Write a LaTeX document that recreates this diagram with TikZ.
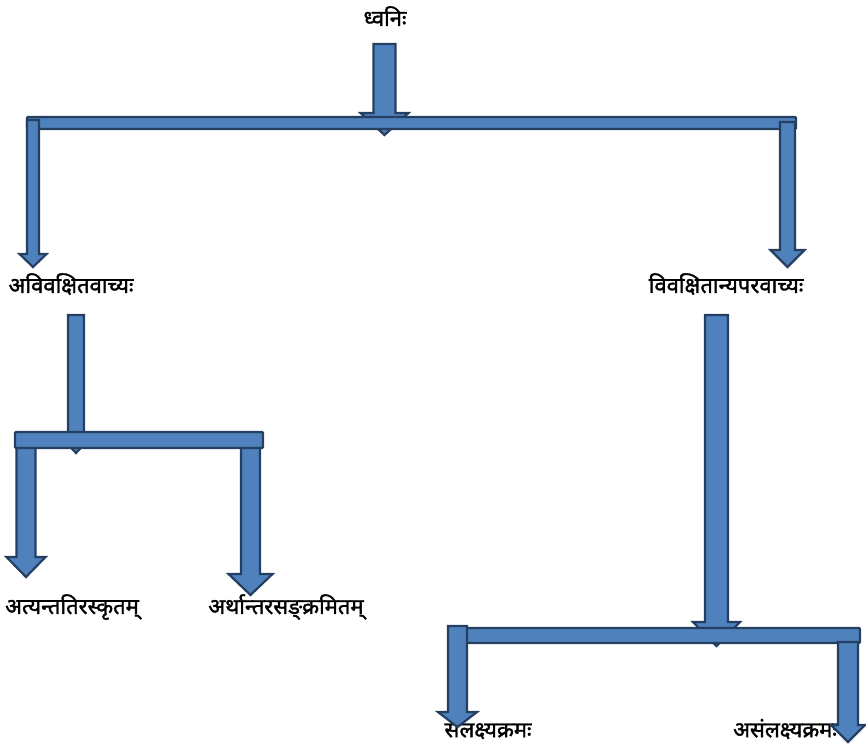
\documentclass[tikz,border=0pt]{standalone}
\usepackage{fontspec}
\newfontfamily\deva[Script=Devanagari,FakeBold=1.6]{Noto Sans}
\definecolor{arrfill}{HTML}{4F81BD}
\definecolor{arrline}{HTML}{243F60}
\tikzset{
  blk/.style={fill=arrfill,draw=arrline,line width=2.2pt,line join=miter},
  lbl/.style={font=\deva\fontsize{22}{24}\selectfont,inner sep=0pt,anchor=center}
}
% \blockdown{cx}{shaft half width}{top}{head half width}{head top}{tip}
\newcommand{\blockdown}[6]{%
  \draw[blk] (#1-#2,#3) -- (#1+#2,#3) -- (#1+#2,#5) -- (#1+#4,#5) -- (#1,#6)
    -- (#1-#4,#5) -- (#1-#2,#5) -- cycle;}
\newcommand{\blockbar}[4]{%
  \draw[blk,rounded corners=1pt] (#1,#2) rectangle (#3,#4);}
\begin{document}
\begin{tikzpicture}[x=1pt,y=-1pt]
\useasboundingbox (0,0) rectangle (866,744);
% labels
\node[lbl] (root) at (385,16) {ध्वनिः};
\node[lbl] (avi) at (71,284) {अविवक्षितवाच्यः};
\node[lbl] (viv) at (726,284) {विवक्षितान्यपरवाच्यः};
\node[lbl] (aty) at (72,607) {अत्यन्ततिरस्कृतम्};
\node[lbl] (art) at (286,607) {अर्थान्तरसङ्क्रमितम्};
\node[lbl] (sam) at (488,729) {संलक्ष्यक्रमः};
\node[lbl] (asa) at (785,729) {असंलक्ष्यक्रमः};
% level 1
\blockdown{384.5}{11}{44}{24}{113}{135}
\blockbar{27}{117}{796}{129}
\blockdown{33}{6}{120}{13.5}{254}{267}
\blockdown{787.5}{7.5}{122}{17}{250}{267}
% level 2 left
\blockdown{76}{8}{315}{14}{438}{453}
\blockdown{26}{9.5}{447}{19.5}{557}{577}
\blockdown{250.5}{9.5}{447}{22}{574}{595}
\blockbar{15}{432}{263}{448}
% level 2 right
\blockdown{716.5}{11.5}{315}{23.5}{622}{646}
\blockbar{463}{628}{860}{643}
\blockdown{848}{10}{642}{17}{725}{742}
\blockdown{457.5}{9.5}{626}{19.5}{712}{727}
\end{tikzpicture}
\end{document}
